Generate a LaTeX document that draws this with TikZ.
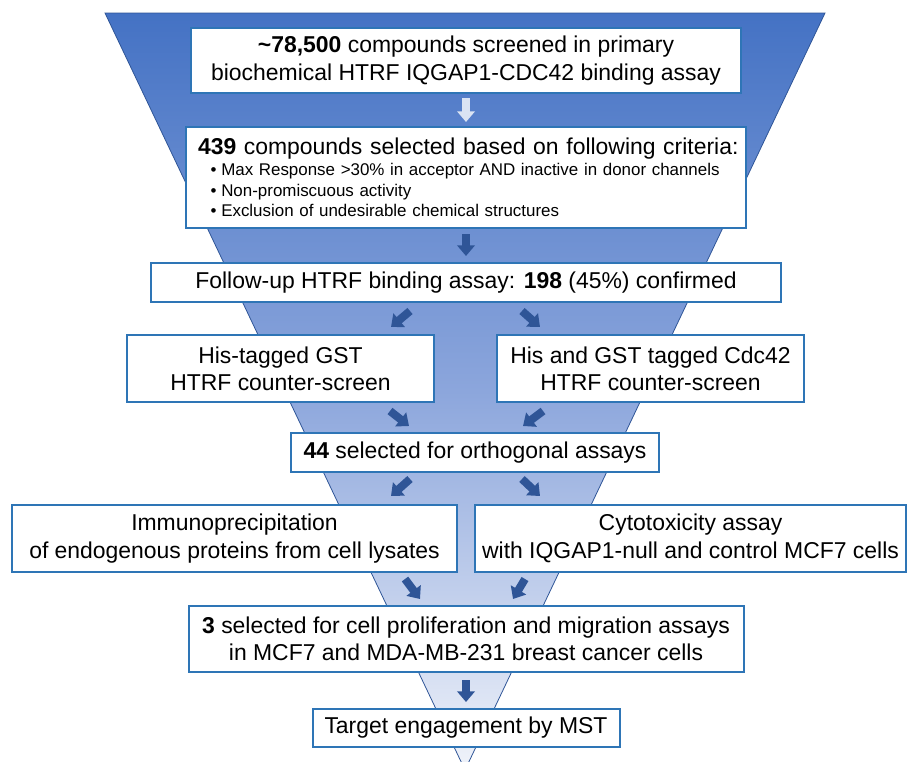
\documentclass[tikz,border=0pt]{standalone}
\usepackage{fontspec}
\setmainfont{Liberation Sans}
\usetikzlibrary{arrows.meta,calc}
\definecolor{boxblue}{RGB}{46,117,182}
\definecolor{arrowblue}{RGB}{47,85,151}
\definecolor{arrowlight}{RGB}{218,227,243}
\definecolor{funneltop}{RGB}{68,114,196}
\definecolor{funnelmid}{RGB}{140,166,220}
\definecolor{funnelbot}{RGB}{240,243,250}
\definecolor{funneledge}{RGB}{47,85,151}

\begin{document}
\begin{tikzpicture}[
    x=0.75pt, y=-0.75pt,
    box/.style={rectangle, draw=boxblue, fill=white, line width=1.5pt, align=center, inner sep=0pt, font=\fontsize{17.2}{20.5}\selectfont},
    arrow/.style={-{Triangle[width=13pt,length=8pt]}, line width=6pt, draw=arrowblue},
    lightarrow/.style={arrow, draw=arrowlight}
]
    \useasboundingbox (0,0) rectangle (912,761);
    \begin{scope}
        \clip (0,0) rectangle (912,761);
        \path [top color=funneltop, bottom color=funnelbot, middle color=funnelmid, draw=funneledge, line width=0.6pt]
            (105,13) -- (825,13) -- (465,770) -- cycle;
    \end{scope}

    \node [box, minimum width=412.5pt, minimum height=48.75pt] (n1) at (466,60.5)
        {\textbf{\textasciitilde 78,500} compounds screened in primary\\biochemical HTRF IQGAP1-CDC42 binding assay};
    \node [box, minimum width=420pt, minimum height=75.75pt, text width=409pt, align=left] (n2) at (466,177.5)
        {\hspace*{3.5pt}\textbf{439} compounds selected based on following criteria:\par
         {\fontsize{12.7}{15.6}\selectfont\spaceskip=.3333em\xspaceskip=.5em
         \hspace*{13pt}•\hspace{3.5pt}Max Response >30\% in acceptor AND inactive in donor channels\par
         \hspace*{13pt}•\hspace{3.5pt}Non-promiscuous activity\par
         \hspace*{13pt}•\hspace{3.5pt}Exclusion of undesirable chemical structures\par}};
    \node [box, minimum width=472.5pt, minimum height=29.25pt] (n3) at (466,282.5)
        {Follow-up HTRF binding assay: \textbf{198} (45\%) confirmed};
    \node [box, minimum width=230.25pt, minimum height=50.25pt] (n4l) at (280.5,368.5)
        {His-tagged GST\\HTRF counter-screen};
    \node [box, minimum width=230.25pt, minimum height=50.25pt] (n4r) at (650.5,368.5)
        {His and GST tagged Cdc42\\HTRF counter-screen};
    \node [box, minimum width=276pt, minimum height=29.25pt] (n5) at (475,452.5)
        {\textbf{44} selected for orthogonal assays};
    \node [box, minimum width=333.75pt, minimum height=50.25pt] (n6l) at (234.5,538.5)
        {Immunoprecipitation\\of endogenous proteins from cell lysates};
    \node [box, minimum width=323.25pt, minimum height=50.25pt] (n6r) at (690.5,538.5)
        {Cytotoxicity assay\\with IQGAP1-null and control MCF7 cells};
    \node [box, minimum width=416.25pt, minimum height=49.5pt] (n7) at (466,639)
        {\textbf{3} selected for cell proliferation and migration assays\\in MCF7 and MDA-MB-231 breast cancer cells};
    \node [box, minimum width=230.25pt, minimum height=28.5pt] (n8) at (466,728)
        {Target engagement by MST};

    \draw [lightarrow] ($(n1.south)+(0,4)$) -- ($(n2.north)+(0,-4)$);
    \draw [arrow] ($(n2.south)+(0,5)$) -- ($(n3.north)+(0,-6)$);
    \draw [arrow] ($(n3.south)+(-56,8)$) -- ($(n4l.north)+(110.5,-7)$);
    \draw [arrow] ($(n3.south)+(56,8)$) -- ($(n4r.north)+(-110.5,-7)$);
    \draw [arrow] ($(n4l.south)+(109.5,8)$) -- ($(n5.north)+(-66,-6)$);
    \draw [arrow] ($(n4r.south)+(-107.5,8)$) -- ($(n5.north)+(48,-6)$);
    \draw [arrow] ($(n5.south)+(-65,6)$) -- ($(n6l.north)+(156.5,-8)$);
    \draw [arrow] ($(n5.south)+(47,6)$) -- ($(n6r.north)+(-150.5,-8)$);
    \draw [arrow] ($(n6l.south)+(170.5,6)$) -- ($(n7.north)+(-46,-6)$);
    \draw [arrow] ($(n6r.south)+(-165.5,6)$) -- ($(n7.north)+(47,-6)$);
    \draw [arrow] ($(n7.south)+(0,7)$) -- ($(n8.north)+(0,-6)$);
\end{tikzpicture}
\end{document}
